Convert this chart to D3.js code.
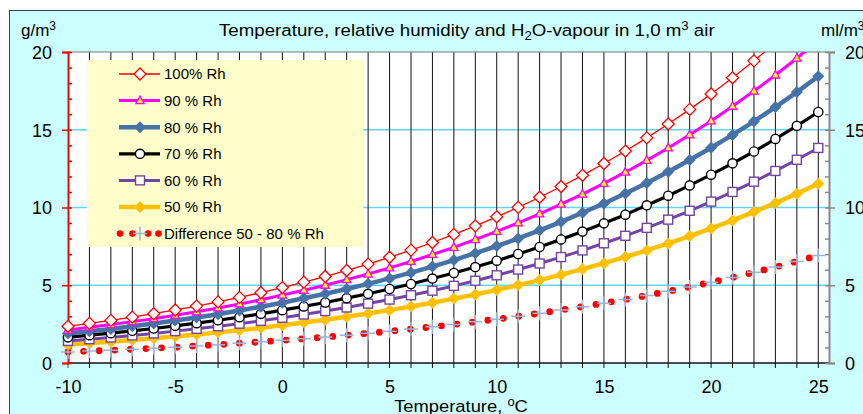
<!DOCTYPE html>
<html>
  <head>
    <meta charset="utf-8">
    <script src="https://d3js.org/d3.v7.min.js"></script>
    <style>
      body { margin: 0; background: white; }
      svg { display: block; font-family: "Liberation Sans", Arial, sans-serif; }
    </style>
  </head>
  <body>
    <div id="chart"></div>
    <script>
        // temperature in degC
        var temps = d3.range(-10, 26)
        // water vapour in g/m3 at the given relative humidity
        var rh100 = [2.36,2.55,2.74,2.95,3.17,3.41,3.66,3.93,4.22,4.52,4.85,5.20,5.56,5.95,6.36,6.80,7.26,7.75,8.27,8.82,
                     9.40,10.01,10.66,11.35,12.07,12.83,13.63,14.48,15.37,16.31,17.30,18.34,19.43,20.58,21.78,23.05]
        var rh90 = [2.12,2.30,2.47,2.66,2.85,3.07,3.29,3.54,3.80,4.07,4.37,4.68,5.00,5.36,5.72,6.12,6.53,6.98,7.44,7.94,
                    8.46,9.01,9.59,10.22,10.86,11.55,12.27,13.03,13.83,14.68,15.57,16.51,17.49,18.52,19.60,20.75]
        var rh80 = [1.89,2.04,2.19,2.36,2.54,2.73,2.93,3.14,3.38,3.62,3.88,4.16,4.45,4.76,5.09,5.44,5.81,6.20,6.62,7.06,
                    7.52,8.01,8.53,9.08,9.66,10.26,10.90,11.58,12.30,13.05,13.84,14.67,15.54,16.46,17.42,18.44]
        var rh70 = [1.65,1.79,1.92,2.07,2.22,2.39,2.56,2.75,2.95,3.16,3.40,3.64,3.89,4.17,4.45,4.76,5.08,5.43,5.79,6.17,
                    6.58,7.01,7.46,7.95,8.45,8.98,9.54,10.14,10.76,11.42,12.11,12.84,13.60,14.41,15.25,16.14]
        var rh60 = [1.42,1.53,1.64,1.77,1.90,2.05,2.20,2.36,2.53,2.71,2.91,3.12,3.34,3.57,3.82,4.08,4.36,4.65,4.96,5.29,
                    5.64,6.01,6.40,6.81,7.24,7.70,8.18,8.69,9.22,9.79,10.38,11.00,11.66,12.35,13.07,13.83]
        var rh50 = [1.18,1.28,1.37,1.48,1.59,1.71,1.83,1.97,2.11,2.26,2.43,2.60,2.78,2.98,3.18,3.40,3.63,3.88,4.14,4.41,
                    4.70,5.01,5.33,5.68,6.04,6.42,6.82,7.24,7.69,8.16,8.65,9.17,9.72,10.29,10.89,11.53]
        var diff5080 = [0.71,0.77,0.82,0.89,0.95,1.02,1.10,1.18,1.27,1.36,1.46,1.56,1.67,1.79,1.91,2.04,2.18,2.33,2.48,2.65,
                        2.82,3.00,3.20,3.41,3.62,3.85,4.09,4.34,4.61,4.89,5.19,5.50,5.83,6.17,6.53,6.92]
        var xTicks = [-10, -5, 0, 5, 10, 15, 20, 25]
        var yTicks = [0, 5, 10, 15, 20]

        var width = 863, height = 414
        var pLeft = 68, pRight = 829, pTop = 52, pBottom = 363
        var font = '"Liberation Sans", Arial, sans-serif'

        var x = d3.scaleLinear().domain([-10, 25.5]).range([pLeft, pRight])
        var y = d3.scaleLinear().domain([0, 20]).range([pBottom, pTop])

        var svg = d3.select("#chart").append("svg")
            .attr("width", width)
            .attr("height", height)

        // frame of the chart
        svg.append("rect").attr("x", 9.5).attr("y", 10.5).attr("width", width).attr("height", height)
            .attr("fill", "#ccffff").attr("stroke", "#404040").attr("stroke-width", 1)
        svg.append("rect").attr("x", pLeft).attr("y", pTop).attr("width", pRight - pLeft).attr("height", pBottom - pTop)
            .attr("fill", "white")

        svg.append("clipPath").attr("id", "clip")
            .append("rect").attr("x", 0).attr("y", pTop).attr("width", width).attr("height", height - pTop)

        // horizontal grid
        svg.selectAll(".hgrid").data([5, 10, 15]).enter().append("line")
            .attr("x1", pLeft).attr("x2", pRight)
            .attr("y1", d => y(d)).attr("y2", d => y(d))
            .attr("stroke", "#5fd8f8").attr("stroke-width", 1.5)

        // vertical grid, one line per degree, running into the tick below the axis
        svg.selectAll(".vgrid").data(d3.range(-9, 26)).enter().append("line")
            .attr("x1", d => x(d)).attr("x2", d => x(d))
            .attr("y1", pTop).attr("y2", pBottom + 5)
            .attr("stroke", "#111").attr("stroke-width", 1)
        svg.append("line").attr("x1", x(-10)).attr("x2", x(-10)).attr("y1", pBottom).attr("y2", pBottom + 5)
            .attr("stroke", "#555")

        // legend box
        var legend = svg.append("g")
        legend.append("rect").attr("x", 87).attr("y", 60).attr("width", 276).attr("height", 187)
            .attr("fill", "#ffffcc")

        // axes
        svg.append("line").attr("x1", pLeft).attr("x2", pRight).attr("y1", pTop).attr("y2", pTop)
            .attr("stroke", "#777").attr("stroke-width", 1)
        svg.append("line").attr("x1", pLeft).attr("x2", pRight).attr("y1", pBottom).attr("y2", pBottom)
            .attr("stroke", "#111").attr("stroke-width", 1.5)

        var plain = d => String(d)

        var yLeft = svg.append("g").attr("transform", "translate(" + pLeft + ",0)")
        yLeft.call(d3.axisRight(y).ticks(20).tickSize(4).tickFormat(""))
        yLeft.call(g => g.select(".domain").remove())
        yLeft.append("g").call(d3.axisLeft(y).tickValues(yTicks).tickSize(6).tickPadding(10).tickFormat(plain))
        yLeft.selectAll("line").attr("stroke", "#ff0000").attr("stroke-width", 1.5)
        yLeft.selectAll(".domain").attr("stroke", "#ff0000").attr("stroke-width", 2)
        yLeft.selectAll("text").attr("font-size", 18).attr("font-family", font).attr("fill", "black").attr("dy", "0.36em")

        var yRight = svg.append("g").attr("transform", "translate(" + pRight + ",0)")
        yRight.call(d3.axisLeft(y).ticks(20).tickSize(4).tickFormat(""))
        yRight.call(g => g.select(".domain").remove())
        yRight.append("g").call(d3.axisRight(y).tickValues(yTicks).tickSize(6).tickPadding(10).tickFormat(plain))
        yRight.selectAll("line").attr("stroke", "#888").attr("stroke-width", 1.5)
        yRight.selectAll(".domain").attr("stroke", "#888").attr("stroke-width", 2)
        yRight.selectAll("text").attr("font-size", 18).attr("font-family", font).attr("fill", "black").attr("dy", "0.36em")

        var xAxis = svg.append("g").attr("transform", "translate(0," + pBottom + ")")
            .call(d3.axisBottom(x).tickValues(xTicks).tickSize(0).tickPadding(17).tickFormat(plain))
        xAxis.select(".domain").remove()
        xAxis.selectAll("text").attr("font-size", 18).attr("font-family", font).attr("fill", "black")

        // series definitions
        var series = [
            {name: "100% Rh", values: rh100, color: "#ff0000", lw: 1.3, marker: "diamondOpen"},
            {name: "90 % Rh", values: rh90, color: "#ff00ff", lw: 3, marker: "triangle"},
            {name: "80 % Rh", values: rh80, color: "#4672a8", lw: 4.5, marker: "diamond"},
            {name: "70 % Rh", values: rh70, color: "#000000", lw: 3.2, marker: "circle"},
            {name: "60 % Rh", values: rh60, color: "#7244a4", lw: 3, marker: "square"},
            {name: "50 % Rh", values: rh50, color: "#ffc000", lw: 4.5, marker: "diamond"}
        ]
        var plusColor = "#9cb4d8"

        function drawMarker(g, kind, color) {
            if (kind == "diamondOpen") {
                g.append("path").attr("d", "M0,-6L6,0L0,6L-6,0Z")
                    .attr("fill", "white").attr("stroke", color).attr("stroke-width", 1.3)
            } else if (kind == "diamond") {
                g.append("path").attr("d", "M0,-6L6,0L0,6L-6,0Z").attr("fill", color)
            } else if (kind == "triangle") {
                g.append("path").attr("d", "M0,-4.5L4.2,3L-4.2,3Z")
                    .attr("fill", "#ffff00").attr("stroke", color).attr("stroke-width", 1.3)
            } else if (kind == "circle") {
                g.append("circle").attr("r", 4.6)
                    .attr("fill", "white").attr("stroke", color).attr("stroke-width", 1.4)
            } else if (kind == "square") {
                g.append("rect").attr("x", -4.5).attr("y", -4.5).attr("width", 9).attr("height", 9)
                    .attr("fill", "white").attr("stroke", color).attr("stroke-width", 1.4)
            } else if (kind == "plus") {
                g.append("path").attr("d", "M-7,0H7M0,-7V7")
                    .attr("stroke", plusColor).attr("stroke-width", 1.5)
            }
        }

        var line = d3.line().x((d, i) => x(temps[i])).y(d => y(d))
        var plot = svg.append("g").attr("clip-path", "url(#clip)")

        // difference series: red round dots along the curve, pale crosses at each degree
        plot.append("path").datum(diff5080)
            .attr("d", line)
            .attr("fill", "none").attr("stroke", "#ff0000").attr("stroke-width", 6.8)
            .attr("stroke-linecap", "round").attr("stroke-dasharray", "0 15.6")
        diff5080.forEach(function(v, i) {
            drawMarker(plot.append("g").attr("transform", "translate(" + x(temps[i]) + "," + y(v) + ")"), "plus")
        })

        series.slice().reverse().forEach(function(s) {
            plot.append("path").datum(s.values)
                .attr("d", line)
                .attr("fill", "none").attr("stroke", s.color).attr("stroke-width", s.lw)
                .attr("stroke-linejoin", "round")
            s.values.forEach(function(v, i) {
                if (v > 20) return
                drawMarker(plot.append("g").attr("transform", "translate(" + x(temps[i]) + "," + y(v) + ")"),
                    s.marker, s.color)
            })
        })

        // legend entries
        var rowY = function(i) { return 74 + i * 26.6 }
        series.forEach(function(s, i) {
            var row = legend.append("g").attr("transform", "translate(0," + rowY(i) + ")")
            row.append("line").attr("x1", 119).attr("x2", 160)
                .attr("stroke", s.color).attr("stroke-width", s.lw)
            drawMarker(row.append("g").attr("transform", "translate(140,0)"), s.marker, s.color)
            row.append("text").attr("x", 164).attr("dy", "0.36em").text(s.name)
                .attr("font-size", 15).attr("font-family", font)
        })
        var drow = legend.append("g").attr("transform", "translate(0," + rowY(6) + ")")
        drow.selectAll("circle").data([120, 132.5, 148, 158.5]).enter().append("circle")
            .attr("cx", d => d).attr("r", 3.3).attr("fill", "#ff0000")
        drawMarker(drow.append("g").attr("transform", "translate(140,0)"), "plus")
        drow.append("text").attr("x", 164).attr("dy", "0.36em").text("Difference 50 - 80 % Rh")
            .attr("font-size", 15).attr("font-family", font)

        // titles (the original lettering is slightly wide, so stretch it a little)
        var title = svg.append("text").attr("transform", "translate(219,36) scale(1.1,1)")
            .attr("font-size", 17).attr("font-family", font)
        title.append("tspan").text("Temperature, relative humidity and H")
        title.append("tspan").attr("font-size", 12).attr("dy", 4).text("2")
        title.append("tspan").attr("dy", -4).text("O-vapour in 1,0 m")
        title.append("tspan").attr("font-size", 12).attr("dy", -6).text("3")
        title.append("tspan").attr("dy", 6).text(" air")

        function unitLabel(xpos, main) {
            var t = svg.append("text").attr("x", xpos).attr("y", 36)
                .attr("font-size", 17).attr("font-family", font)
            t.append("tspan").text(main)
            t.append("tspan").attr("font-size", 12).attr("dy", -6).text("3")
        }
        unitLabel(21, "g/m")
        unitLabel(821, "ml/m")

        var xTitle = svg.append("text").attr("transform", "translate(461,412) scale(1.08,1)")
            .attr("text-anchor", "middle")
            .attr("font-size", 17).attr("font-family", font)
        xTitle.append("tspan").text("Temperature, ")
        xTitle.append("tspan").attr("font-size", 12).attr("dy", -6).text("o")
        xTitle.append("tspan").attr("dy", 6).text("C")
    </script>
  </body>
</html>
